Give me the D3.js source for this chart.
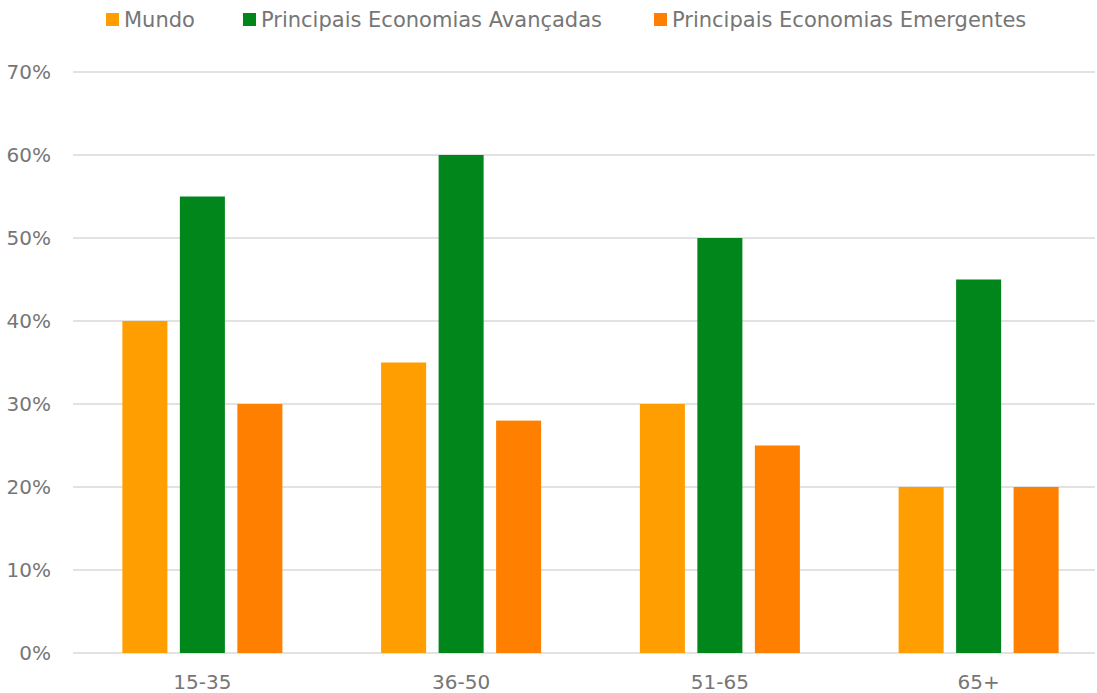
<!DOCTYPE html>
<html>
<head>
<meta charset="utf-8">
<script src="https://cdn.jsdelivr.net/npm/d3@7"></script>
<style>
  body { margin: 0; background: #fff; }
  text { font-family: "DejaVu Sans", sans-serif; fill: #767676; }
</style>
</head>
<body>
<div id="chart"></div>
<script>
// Data
const categories = ["15-35", "36-50", "51-65", "65+"];
const series = ["Mundo", "Principais Economias Avançadas", "Principais Economias Emergentes"];
const mundo = [0.40, 0.35, 0.30, 0.20];
const avancadas = [0.55, 0.60, 0.50, 0.45];
const emergentes = [0.30, 0.28, 0.25, 0.20];
const yTicks = [0, 0.1, 0.2, 0.3, 0.4, 0.5, 0.6, 0.7];

const width = 1097;
const height = 693;
const colors = ["#FF9E00", "#00861A", "#FF7F00"];
const values = [mundo, avancadas, emergentes];

const svg = d3.select("#chart")
    .append("svg")
    .attr("width", width)
    .attr("height", height);

// Scales
const x0 = d3.scaleBand()
    .domain(categories)
    .range([73, 1108]);

const x1 = d3.scaleBand()
    .domain(series)
    .range([-80, 80])
    .paddingInner(0.217);

const y = d3.scaleLinear()
    .domain([0, 0.7])
    .range([653, 72]);

// Gridlines
svg.selectAll(".grid")
    .data(yTicks)
    .enter().append("line")
    .attr("x1", 73)
    .attr("x2", 1095)
    .attr("y1", d => y(d))
    .attr("y2", d => y(d))
    .attr("stroke", "#d9d9d9")
    .attr("stroke-width", 1.5);

// Y labels
svg.selectAll(".ylab")
    .data(yTicks)
    .enter().append("text")
    .attr("x", 51)
    .attr("y", d => y(d))
    .attr("dy", "0.35em")
    .attr("text-anchor", "end")
    .style("font-size", "20px")
    .text(d => d3.format(".0%")(d));

// Bars
const groups = svg.selectAll(".group")
    .data(categories)
    .enter().append("g")
    .attr("transform", d => `translate(${x0(d) + x0.bandwidth() / 2},0)`);

groups.selectAll("rect")
    .data((c, ci) => series.map((s, si) => ({ s, si, v: values[si][ci] })))
    .enter().append("rect")
    .attr("x", d => x1(d.s))
    .attr("width", x1.bandwidth())
    .attr("y", d => y(d.v))
    .attr("height", d => y(0) - y(d.v))
    .attr("fill", d => colors[d.si]);

// X labels
groups.append("text")
    .attr("y", 689)
    .attr("text-anchor", "middle")
    .style("font-size", "20px")
    .text(d => d);

// Legend
const legendX = [106, 243, 654];
const legend = svg.selectAll(".legend")
    .data(series)
    .enter().append("g")
    .attr("transform", (d, i) => `translate(${legendX[i]},13)`);

legend.append("rect")
    .attr("width", 13)
    .attr("height", 13)
    .attr("fill", (d, i) => colors[i]);

legend.append("text")
    .attr("x", 18)
    .attr("y", 7)
    .attr("dy", "0.35em")
    .style("font-size", "21px")
    .text(d => d);
</script>
</body>
</html>
